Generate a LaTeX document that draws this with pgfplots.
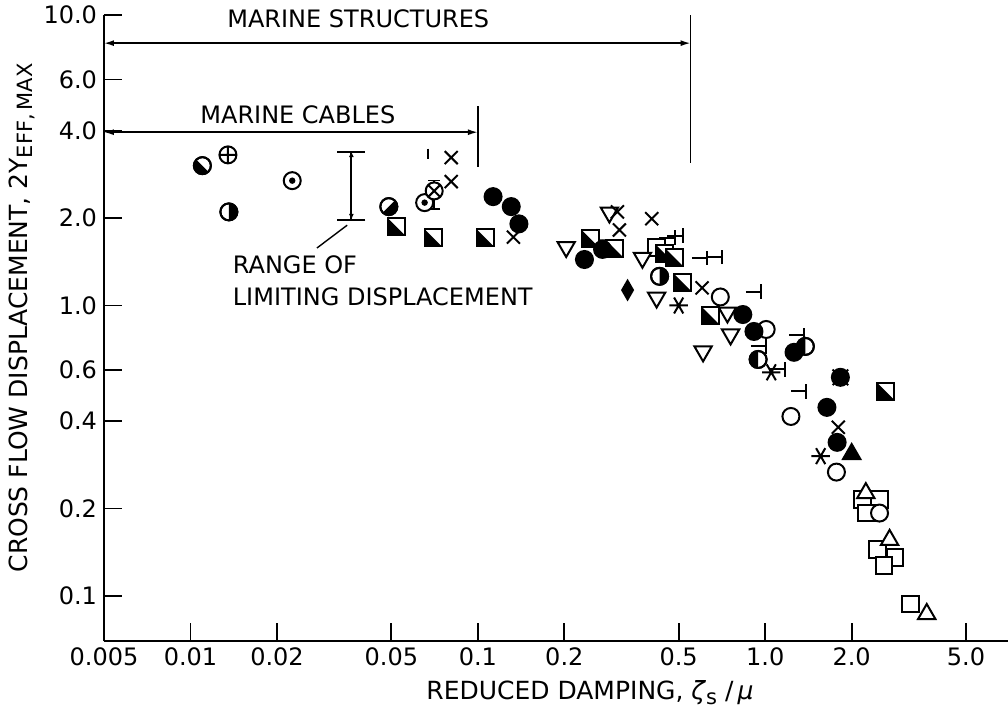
\documentclass[border=0pt]{standalone}
\usepackage{fontspec}
\setmainfont{DejaVu Sans}
\usepackage{pgfplots}
\pgfplotsset{compat=1.18}
\usetikzlibrary{arrows.meta}

% circle with its right half black (rotate for other halves)
\pgfdeclareplotmark{hcright}{%
  \pgfpathcircle{\pgfpointorigin}{\pgfplotmarksize}%
  \pgfsetfillcolor{white}\pgfusepathqfillstroke
  \pgfpathmoveto{\pgfpoint{0pt}{\pgfplotmarksize}}%
  \pgfpatharc{90}{-90}{\pgfplotmarksize}%
  \pgfpathclose
  \pgfsetfillcolor{black}\pgfusepathqfill
  \pgfpathcircle{\pgfpointorigin}{\pgfplotmarksize}\pgfusepathqstroke
}
% square split along a diagonal, one triangle black
\pgfdeclareplotmark{hsq}{%
  \pgfpathrectanglecorners{\pgfpoint{-\pgfplotmarksize}{-\pgfplotmarksize}}{\pgfpoint{\pgfplotmarksize}{\pgfplotmarksize}}%
  \pgfsetfillcolor{white}\pgfusepathqfillstroke
  \pgfpathmoveto{\pgfpoint{-\pgfplotmarksize}{-\pgfplotmarksize}}%
  \pgfpathlineto{\pgfpoint{\pgfplotmarksize}{-\pgfplotmarksize}}%
  \pgfpathlineto{\pgfpoint{-\pgfplotmarksize}{\pgfplotmarksize}}%
  \pgfpathclose
  \pgfsetfillcolor{black}\pgfusepathqfill
}
% circle with a central dot
\pgfdeclareplotmark{odotm}{%
  \pgfpathcircle{\pgfpointorigin}{\pgfplotmarksize}%
  \pgfsetfillcolor{white}\pgfusepathqfillstroke
  \pgfpathcircle{\pgfpointorigin}{0.38\pgfplotmarksize}%
  \pgfsetfillcolor{black}\pgfusepathqfill
}
% flag: short horizontal stroke ending in a vertical bar
\pgfdeclareplotmark{flag}{%
  \pgfpathmoveto{\pgfpoint{-1.9\pgfplotmarksize}{0pt}}%
  \pgfpathlineto{\pgfpointorigin}%
  \pgfpathmoveto{\pgfpoint{0pt}{-0.9\pgfplotmarksize}}%
  \pgfpathlineto{\pgfpoint{0pt}{0.9\pgfplotmarksize}}%
  \pgfusepathqstroke
}

\pgfplotsset{pt/.style={only marks, black, line width=1bp, mark options={solid, line width=1bp}}}

\begin{document}
\begin{tikzpicture}
\begin{axis}[
  name=ax, scale only axis, width=452bp, height=313bp,
  xmode=log, ymode=log,
  xmin=0.005, xmax=7, ymin=0.07, ymax=10,
  axis x line=bottom, axis y line=left,
  axis line style={-, line width=1.1bp},
  tick align=inside, major tick length=9bp,
  tick style={line width=0.9bp, black},
  xminorticks=false, yminorticks=false,
  xtick={0.005,0.01,0.02,0.05,0.1,0.2,0.5,1,2,5},
  xticklabels={0.005,0.01,0.02,0.05,0.1,0.2,0.5,1.0,2.0,5.0},
  ytick={0.1,0.2,0.4,0.6,1,2,4,6,10},
  yticklabels={0.1,0.2,0.4,0.6,1.0,2.0,4.0,6.0,10.0},
  tick label style={font=\fontsize{12bp}{14bp}\selectfont},
  label style={font=\fontsize{12.5bp}{14bp}\selectfont},
  xlabel={REDUCED DAMPING, \textit{ζ}\raisebox{-0.35ex}{\fontsize{10.5bp}{12bp}\selectfont s} /\,\textit{μ}},
  ylabel={CROSS FLOW DISPLACEMENT, 2Y\raisebox{-0.4ex}{\fontsize{10.5bp}{12bp}\selectfont EFF,\,MAX}},
  xlabel style={at={(axis description cs:0.5376,0)}, anchor=center, yshift=-26bp},
  ylabel style={at={(axis description cs:-0.0907,0.516)}, anchor=center},
  clip=false,
]

% marine structures / marine cables ranges
\addplot[black, line width=0.8bp, {Latex[length=5bp,width=3bp]}-{Latex[length=5bp,width=3bp]}] coordinates {(0.005,8.0) (0.55,8.0)};
\addplot[black, line width=0.7bp] coordinates {(0.55,10) (0.55,3.1)};
\addplot[black, line width=0.8bp, {Latex[length=5bp,width=3bp]}-{Latex[length=5bp,width=3bp]}] coordinates {(0.005,3.95) (0.1,3.95)};
\addplot[black, line width=0.7bp] coordinates {(0.1,4.85) (0.1,3.0)};
\node[anchor=west, inner sep=0pt, font=\fontsize{12bp}{14bp}\selectfont] at (axis cs:0.01339,9.69) {MARINE STRUCTURES};
\node[anchor=west, inner sep=0pt, font=\fontsize{12bp}{14bp}\selectfont] at (axis cs:0.01079,4.53) {MARINE CABLES};

% range of limiting displacement
\addplot[black, line width=0.9bp, {Bar[width=14bp]}-{Bar[width=14bp]}] coordinates {(0.0363,1.96) (0.0363,3.41)};
\addplot[black, line width=0.6bp, {Latex[length=3bp,width=2.5bp]}-{Latex[length=3bp,width=2.5bp]}] coordinates {(0.0363,1.97) (0.0363,3.40)};
\addplot[black, line width=0.7bp] coordinates {(0.0351,1.89) (0.02754,1.577)};
\node[anchor=west, inner sep=0pt, font=\fontsize{12bp}{14bp}\selectfont] at (axis cs:0.0140,1.379) {RANGE OF};
\node[anchor=west, inner sep=0pt, font=\fontsize{12bp}{14bp}\selectfont] at (axis cs:0.0140,1.070) {LIMITING DISPLACEMENT};

% open squares
\addplot[pt, mark=square*, mark size=4.2bp, mark options={fill=white}] coordinates {
(0.419,1.58) (2.18,0.215) (2.50,0.215) (2.25,0.193) (2.46,0.145) (2.83,0.136) (2.59,0.127) (3.21,0.0939)};
% open triangles (apex up)
\addplot[pt, mark=triangle*, mark size=5bp, mark options={fill=white}] coordinates {
(2.24,0.226) (2.71,0.156) (3.65,0.0867)};
% open triangles (apex down)
\addplot[pt, mark=triangle*, mark size=5bp, mark options={fill=white, rotate=180}] coordinates {
(0.203,1.59) (0.287,2.09) (0.283,1.61) (0.374,1.46) (0.419,1.065) (0.739,0.946) (0.758,0.795) (0.608,0.695)};
% open circles
\addplot[pt, mark=*, mark size=4.25bp, mark options={fill=white}] coordinates {
(0.698,1.07) (1.008,0.827) (1.229,0.415) (1.77,0.267) (2.50,0.193)};
% half-filled squares
\addplot[pt, mark=hsq, mark size=4.2bp] coordinates {
(0.052,1.87) (0.070,1.71) (0.106,1.71) (0.246,1.70) (0.299,1.57) (0.447,1.51) (0.484,1.46) (0.516,1.20) (0.644,0.924) (2.63,0.506)};
% filled circles
\addplot[pt, mark=*, mark size=4.25bp] coordinates {
(0.113,2.37) (0.1307,2.19) (0.139,1.91) (0.235,1.44) (0.2717,1.56) (0.836,0.931) (0.914,0.814) (1.26,0.690) (1.64,0.446) (1.78,0.338) (1.827,0.566)};
\addplot[pt, mark=x, mark size=5.5bp] coordinates {(1.827,0.566)};
% half-filled circles
\addplot[pt, mark=hcright, mark size=4.25bp] coordinates {(0.0136,2.10) (0.429,1.26)};
\addplot[pt, mark=hcright, mark size=4.25bp, mark options={rotate=180}] coordinates {(0.945,0.652) (1.38,0.723)};
\addplot[pt, mark=hcright, mark size=4.25bp, mark options={rotate=225}] coordinates {(0.011,3.03)};
\addplot[pt, mark=hcright, mark size=4.25bp, mark options={rotate=-45}] coordinates {(0.049,2.19)};
% circle with cross, circles with dot
\addplot[pt, mark=oplus*, mark size=4.25bp, mark options={fill=white}] coordinates {(0.0135,3.30)};
\addplot[pt, mark=odotm, mark size=4.25bp] coordinates {(0.0226,2.69) (0.0653,2.26)};
\addplot[black, line width=0.8bp, {Bar[width=6bp]}-{Bar[width=6bp]}] coordinates {(0.0705,2.14) (0.0705,2.71)};
\addplot[pt, mark=otimes*, mark size=4.25bp, mark options={fill=white}] coordinates {(0.0705,2.48)};
\addplot[pt, mark=|, mark size=2.5bp] coordinates {(0.067,3.33)};
% crosses
\addplot[pt, mark=x, mark size=4.6bp] coordinates {
(0.0808,3.23) (0.0808,2.67) (0.133,1.72) (0.306,2.10) (0.311,1.82) (0.403,1.99) (0.603,1.15) (1.797,0.381)};
% asterisks
\addplot[pt, mark=asterisk, mark size=4.6bp, mark options={rotate=90}] coordinates {
(0.5,1.0) (1.05,0.589) (1.56,0.303)};
% filled diamond and filled triangle
\addplot[pt, mark=diamond*, mark size=3.6bp, mark options={yscale=1.3}] coordinates {(0.332,1.13)};
\addplot[pt, mark=triangle*, mark size=5bp] coordinates {(2.0,0.308)};
% flags
\addplot[pt, mark=flag, mark size=4bp] coordinates {
(0.484,1.713) (0.516,1.74) (0.628,1.46) (0.71,1.47) (0.967,1.117) (1.008,0.723) (1.17,0.603) (1.37,0.789) (1.39,0.506)};
\end{axis}
\pgfresetboundingbox
\path ([shift={(-52bp,-38bp)}]ax.south west) rectangle ([shift={(0bp,7.5bp)}]ax.north east);
\end{tikzpicture}
\end{document}
